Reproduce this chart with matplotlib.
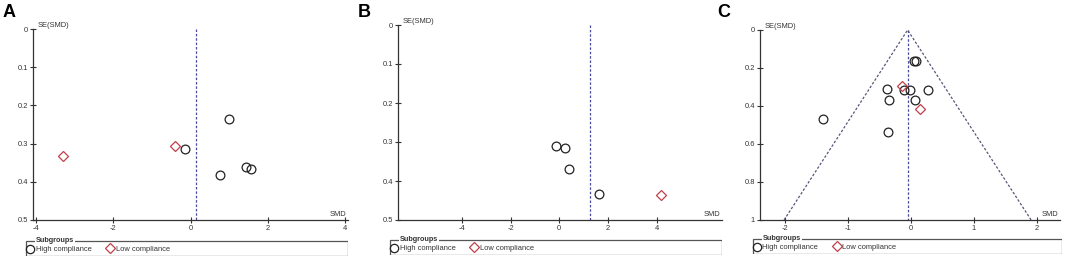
import matplotlib
matplotlib.use("Agg")
import matplotlib.pyplot as plt
from matplotlib.patches import Rectangle

plt.rcParams['font.family'] = ['Liberation Sans', 'DejaVu Sans']

# panel A
a_high_smd = [-0.13, 0.99, 0.77, 1.45, 1.56]
a_high_se = [0.315, 0.236, 0.382, 0.361, 0.367]
a_low_smd = [-3.29, -0.40]
a_low_se = [0.332, 0.306]
a_pooled = 0.13

# panel B
b_high_smd = [-0.15, 0.22, 0.38, 1.62]
b_high_se = [0.310, 0.315, 0.369, 0.434]
b_low_smd = [4.18]
b_low_se = [0.437]
b_pooled = 1.25

# panel C
c_high_smd = [0.048, 0.090, -0.375, -0.11, -0.016, 0.276, -0.338, 0.064, -0.359, -1.39]
c_high_se = [0.163, 0.163, 0.311, 0.316, 0.314, 0.314, 0.367, 0.368, 0.538, 0.470]
c_low_smd = [-0.137, 0.143]
c_low_se = [0.295, 0.416]
c_pooled = -0.048

W, H = 1065, 258
fig = plt.figure(figsize=(W / 100, H / 100), dpi=100)

red = '#c0404a'
blue = '#4a4a9c'
axcol = '#333333'
txt = '#333333'
fs = 5.4


def px_axes(l, t, r, b):
    return fig.add_axes([l / W, 1 - b / H, (r - l) / W, (b - t) / H])


def funnel(box, hs, hse, ls, lse, pooled, xlim, xt, ymax, yt, ylabels, funnel_lines=False):
    ax = px_axes(*box)
    ax.plot(hs, hse, 'o', mfc='none', mec='#222222', ms=6.3, mew=0.9, zorder=3)
    ax.plot(ls, lse, 'D', mfc='none', mec=red, ms=5.4, mew=0.9, zorder=3)
    ax.plot([pooled, pooled], [0, ymax], ls=(0, (2, 1.5)), color=blue, lw=0.9)
    if funnel_lines:
        ax.plot([pooled - 1.96 * ymax, pooled, pooled + 1.96 * ymax], [ymax, 0, ymax],
                ls=(0, (2, 1.5)), color='#555577', lw=0.9)
    ax.set_xlim(*xlim)
    ax.set_ylim(ymax, 0)
    ax.set_xticks(xt)
    ax.set_xticklabels([str(v) for v in xt])
    ax.set_yticks(yt)
    ax.set_yticklabels(ylabels)
    for s in ['top', 'right']:
        ax.spines[s].set_visible(False)
    for s in ['left', 'bottom']:
        ax.spines[s].set_color(axcol)
        ax.spines[s].set_linewidth(0.9)
    ax.tick_params(direction='inout', length=5, width=0.8, color=axcol,
                   labelsize=fs, labelcolor=txt, pad=1)
    ax.text(0.015, 1.0, 'SE(SMD)', transform=ax.transAxes, fontsize=fs,
            color=txt, va='bottom', ha='left')
    ax.text(0.995, 0.008, 'SMD', transform=ax.transAxes, fontsize=fs,
            color=txt, va='bottom', ha='right')
    ax.patch.set_alpha(0)
    return ax


def legend_box(l, t, r, b):
    lg = px_axes(l, t, r, b)
    lg.set_xlim(0, r - l)
    lg.set_ylim(b - t, 0)
    lg.axis('off')
    lg.add_patch(Rectangle((0.5, 0.5), r - l - 1, b - t - 1, fill=False,
                           ec='#555555', lw=0.9))
    lg.text(10.5, 0.8, 'Subgroups', fontsize=5.2, fontweight='bold', color=txt,
            va='center', ha='left', bbox=dict(fc='white', ec='none', pad=0.6))
    lg.plot([5], [9.0], 'o', mfc='none', mec='#222222', ms=6, mew=0.9, clip_on=False)
    lg.text(10.5, 9.8, 'High compliance', fontsize=fs, color=txt, va='center')
    lg.plot([85], [8.3], 'D', mfc='none', mec=red, ms=5.4, mew=0.9, clip_on=False)
    lg.text(90.5, 9.8, 'Low compliance', fontsize=fs, color=txt, va='center')


funnel((33, 29, 348, 220), a_high_smd, a_high_se, a_low_smd, a_low_se, a_pooled,
       (-4.08, 4.08), [-4, -2, 0, 2, 4], 0.5, [0, 0.1, 0.2, 0.3, 0.4, 0.5],
       ['0', '0.1', '0.2', '0.3', '0.4', '0.5'])
funnel((398, 25, 722, 220), b_high_smd, b_high_se, b_low_smd, b_low_se, b_pooled,
       (-6.62, 6.68), [-4, -2, 0, 2, 4], 0.5, [0, 0.1, 0.2, 0.3, 0.4, 0.5],
       ['0', '0.1', '0.2', '0.3', '0.4', '0.5'])
funnel((760, 30, 1060, 220), c_high_smd, c_high_se, c_low_smd, c_low_se, c_pooled,
       (-2.39, 2.37), [-2, -1, 0, 1, 2], 1.0, [0, 0.2, 0.4, 0.6, 0.8, 1.0],
       ['0', '0.2', '0.4', '0.6', '0.8', '1'], funnel_lines=True)

legend_box(25, 240, 348, 256)
legend_box(389, 239, 722, 255)
legend_box(752, 238, 1062, 254)

for x, lab in [(3, 'A'), (358, 'B'), (717, 'C')]:
    fig.text(x / W, 1 - 4 / H, lab, fontsize=13, fontweight='bold', va='top', ha='left')

fig.savefig('out.png', dpi=100)
